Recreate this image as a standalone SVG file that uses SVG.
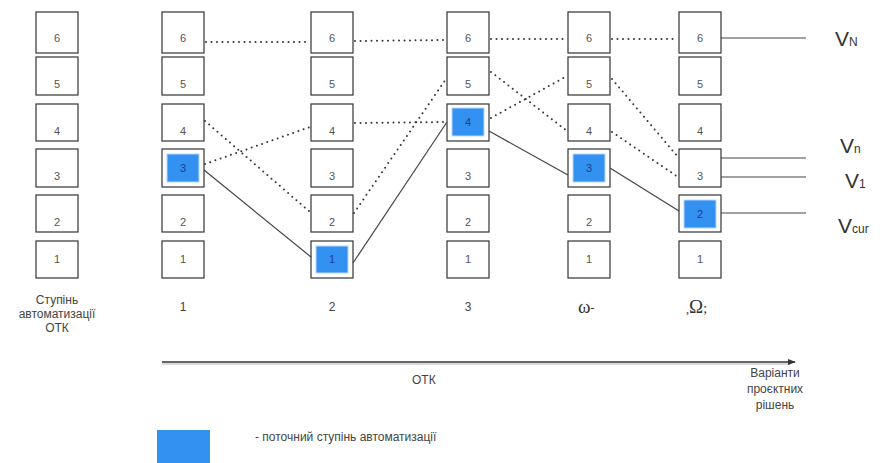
<svg xmlns="http://www.w3.org/2000/svg" width="883" height="463" viewBox="0 0 883 463">
<defs>
<style>
.box{fill:#fff;stroke:#333;stroke-width:1.2}
.cur{fill:#3391f2;stroke:#b8d8fa;stroke-width:1}
.num{font-family:"Liberation Sans",Arial,sans-serif;font-size:11px;fill:#555;text-anchor:middle}
.numc{font-family:"Liberation Sans",Arial,sans-serif;font-size:11px;fill:#1e3d8f;text-anchor:middle}
.lbl{font-family:"Liberation Sans",Arial,sans-serif;font-size:12px;fill:#444}
.mid{text-anchor:middle}
.greek{font-family:"Liberation Serif","Times New Roman",serif;font-size:19px;fill:#333}
.v{font-family:"Liberation Sans",Arial,sans-serif;font-size:21px;fill:#333}
.sub{font-size:12px}
.dot{fill:none;stroke:#333;stroke-width:2;stroke-dasharray:0 5.5;stroke-linecap:round}
.sol{fill:none;stroke:#444;stroke-width:1.2}
</style>
<marker id="arr" viewBox="0 0 10 10" refX="9" refY="5" markerWidth="8" markerHeight="8" markerUnits="userSpaceOnUse" orient="auto">
<path d="M0,1 L10,5 L0,9 z" fill="#333"/>
</marker>
</defs>
<rect width="883" height="463" fill="#fff"/>

<!-- column 0 -->
<g id="c0">
<rect class="box" x="36" y="12" width="42" height="41"/><text class="num" x="57" y="42">6</text>
<rect class="box" x="36" y="57" width="42" height="38"/><text class="num" x="57" y="88">5</text>
<rect class="box" x="36" y="104" width="42" height="37"/><text class="num" x="57" y="135">4</text>
<rect class="box" x="36" y="149" width="42" height="38"/><text class="num" x="57" y="180">3</text>
<rect class="box" x="36" y="195" width="42" height="37"/><text class="num" x="57" y="226">2</text>
<rect class="box" x="36" y="241" width="42" height="37"/><text class="num" x="57" y="263">1</text>
</g>
<!-- column 1 -->
<g id="c1">
<rect class="box" x="162" y="12" width="42" height="41"/><text class="num" x="183" y="42">6</text>
<rect class="box" x="162" y="57" width="42" height="38"/><text class="num" x="183" y="88">5</text>
<rect class="box" x="162" y="104" width="42" height="37"/><text class="num" x="183" y="135">4</text>
<rect class="box" x="162" y="149" width="42" height="38"/><rect class="cur" x="167" y="154" width="32" height="28"/><text class="numc" x="183" y="172">3</text>
<rect class="box" x="162" y="195" width="42" height="37"/><text class="num" x="183" y="226">2</text>
<rect class="box" x="162" y="241" width="42" height="37"/><text class="num" x="183" y="263">1</text>
</g>
<!-- column 2 -->
<g id="c2">
<rect class="box" x="311" y="12" width="42" height="41"/><text class="num" x="332" y="42">6</text>
<rect class="box" x="311" y="57" width="42" height="38"/><text class="num" x="332" y="88">5</text>
<rect class="box" x="311" y="104" width="42" height="37"/><text class="num" x="332" y="135">4</text>
<rect class="box" x="311" y="149" width="42" height="38"/><text class="num" x="332" y="180">3</text>
<rect class="box" x="311" y="195" width="42" height="37"/><text class="num" x="332" y="226">2</text>
<rect class="box" x="311" y="241" width="42" height="37"/><rect class="cur" x="316" y="246" width="32" height="27"/><text class="numc" x="332" y="263">1</text>
</g>
<!-- column 3 -->
<g id="c3">
<rect class="box" x="447" y="12" width="42" height="41"/><text class="num" x="468" y="42">6</text>
<rect class="box" x="447" y="57" width="42" height="38"/><text class="num" x="468" y="88">5</text>
<rect class="box" x="447" y="104" width="42" height="37"/><rect class="cur" x="452" y="108" width="32" height="28"/><text class="numc" x="468" y="126">4</text>
<rect class="box" x="447" y="149" width="42" height="38"/><text class="num" x="468" y="180">3</text>
<rect class="box" x="447" y="195" width="42" height="37"/><text class="num" x="468" y="226">2</text>
<rect class="box" x="447" y="241" width="42" height="37"/><text class="num" x="468" y="263">1</text>
</g>
<!-- column 4 -->
<g id="c4">
<rect class="box" x="568" y="12" width="42" height="41"/><text class="num" x="589" y="42">6</text>
<rect class="box" x="568" y="57" width="42" height="38"/><text class="num" x="589" y="88">5</text>
<rect class="box" x="568" y="104" width="42" height="37"/><text class="num" x="589" y="135">4</text>
<rect class="box" x="568" y="149" width="42" height="38"/><rect class="cur" x="573" y="154" width="32" height="28"/><text class="numc" x="589" y="172">3</text>
<rect class="box" x="568" y="195" width="42" height="37"/><text class="num" x="589" y="226">2</text>
<rect class="box" x="568" y="241" width="42" height="37"/><text class="num" x="589" y="263">1</text>
</g>
<!-- column 5 -->
<g id="c5">
<rect class="box" x="679" y="12" width="42" height="41"/><text class="num" x="700" y="42">6</text>
<rect class="box" x="679" y="57" width="42" height="38"/><text class="num" x="700" y="88">5</text>
<rect class="box" x="679" y="104" width="42" height="37"/><text class="num" x="700" y="135">4</text>
<rect class="box" x="679" y="149" width="42" height="38"/><text class="num" x="700" y="180">3</text>
<rect class="box" x="679" y="195" width="42" height="37"/><rect class="cur" x="684" y="200" width="32" height="28"/><text class="numc" x="700" y="218">2</text>
<rect class="box" x="679" y="241" width="42" height="37"/><text class="num" x="700" y="263">1</text>
</g>

<g id="connectors">
<!-- dotted -->
<path class="dot" d="M206,42 L309,42"/>
<path class="dot" d="M355,41 L445,40"/>
<path class="dot" d="M491,39 L566,39"/>
<path class="dot" d="M612,39 L677,39"/>
<path class="dot" d="M205,164 L310,127"/>
<path class="dot" d="M205,121 L310,212"/>
<path class="dot" d="M354,213 L446,79"/>
<path class="dot" d="M355,123 L446,122"/>
<path class="dot" d="M491,72 L567,131"/>
<path class="dot" d="M491,118 L567,76"/>
<path class="dot" d="M612,79 L678,157"/>
<path class="dot" d="M612,132 L678,177"/>
<!-- solid -->
<path class="sol" d="M204,170 L311,257"/>
<path class="sol" d="M353,263 L447,122"/>
<path class="sol" d="M489,131 L568,175"/>
<path class="sol" d="M610,168 L679,211"/>
<path class="sol" d="M721,38 L806,38"/>
<path class="sol" d="M721,158 L806,158"/>
<path class="sol" d="M721,177 L806,177"/>
<path class="sol" d="M721,213 L806,213"/>
<!-- axis -->
<path d="M162,364 L790,364" fill="none" stroke="#ccc" stroke-width="1.5"/>
<path d="M162,362 L795,362" fill="none" stroke="#333" stroke-width="1.5" marker-end="url(#arr)"/>
</g>

<g id="outputs">
<text class="v" x="835" y="46">V<tspan class="sub">N</tspan></text>
<text class="v" x="840" y="153">V<tspan class="sub">n</tspan></text>
<text class="v" x="845" y="188">V<tspan class="sub">1</tspan></text>
<text class="v" x="838" y="233">V<tspan class="sub">cur</tspan></text>
</g>

<g id="labels">
<text class="lbl mid" x="57" y="304">Ступінь</text>
<text class="lbl mid" x="57" y="318">автоматизації</text>
<text class="lbl mid" x="57" y="332">ОТК</text>
<text class="lbl mid" x="183" y="311">1</text>
<text class="lbl mid" x="332" y="311">2</text>
<text class="lbl mid" x="468" y="311">3</text>
<text class="greek" x="578" y="313">ω<tspan font-size="12" dy="-1">-</tspan></text>
<text class="greek" x="686" y="313"><tspan font-size="12">,</tspan>Ω<tspan font-size="14">;</tspan></text>
<text class="lbl" x="412" y="384">ОТК</text>
<text class="lbl mid" x="775" y="377">Варіанти</text>
<text class="lbl mid" x="775" y="393">проєктних</text>
<text class="lbl mid" x="775" y="409">рішень</text>
</g>

<g id="legend">
<rect x="157" y="430" width="53" height="33" fill="#3391f2"/>
<text class="lbl" x="255" y="441">- поточний ступінь автоматизації</text>
</g>
</svg>
